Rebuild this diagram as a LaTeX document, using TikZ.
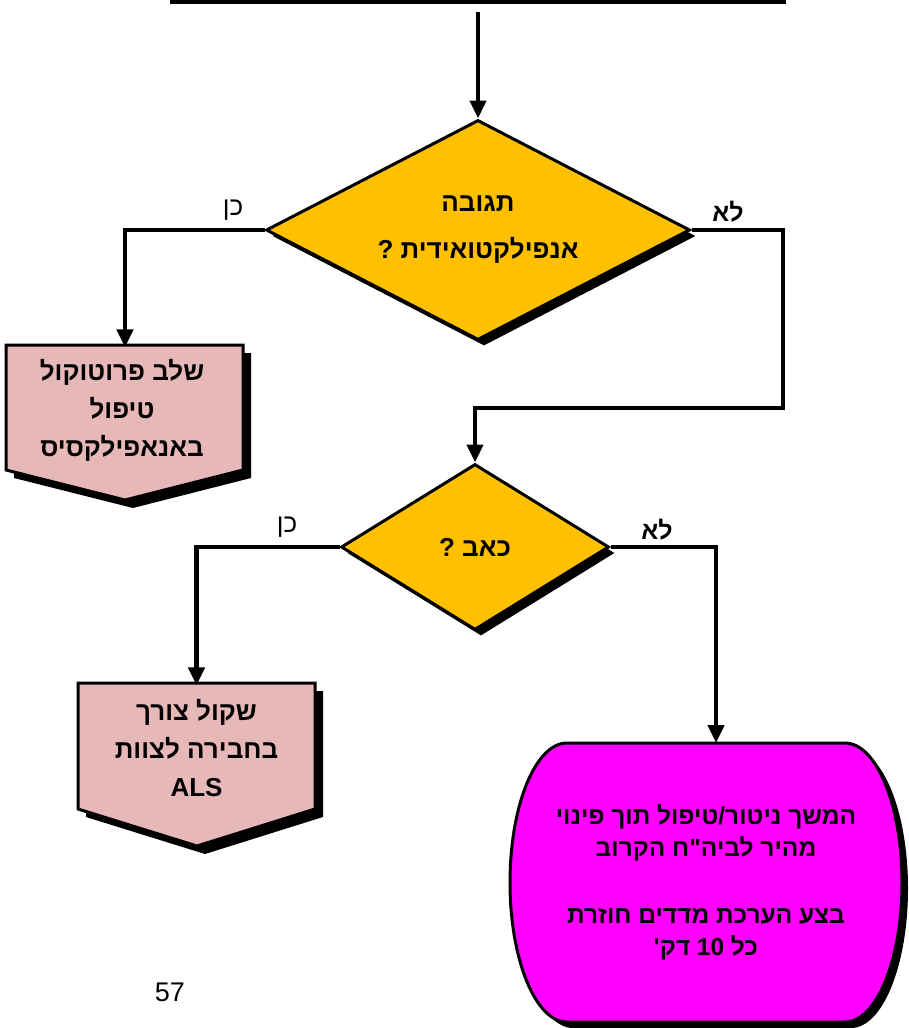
\documentclass[tikz,border=0pt]{standalone}
\usepackage{fontspec}
\setmainfont{Liberation Sans}
\newfontfamily\hebfont[Script=Hebrew]{Liberation Sans}
\TeXXeTstate=1
\newcommand{\heb}[1]{\beginR #1\endR}
\usetikzlibrary{positioning,shapes.geometric,arrows.meta,shadows}
\definecolor{decyellow}{HTML}{FFC000}
\definecolor{actpink}{HTML}{E6B9B8}
\definecolor{endmagenta}{HTML}{FF00FF}

\begin{document}
\begin{tikzpicture}[x=1pt, y=-1pt,
	flow/.style={line width=4.5pt, -{Triangle[width=16pt,length=18pt]}},
	decision/.style={diamond, draw, line width=3pt, fill=decyellow, inner sep=0pt, aspect=1.9,
		align=center, font=\hebfont\bfseries\fontsize{26}{47}\selectfont,
		drop shadow={opacity=1, fill=black, shadow xshift=6pt, shadow yshift=-6pt}},
	pent/.style={draw, line width=3pt, fill=actpink,
		drop shadow={opacity=1, fill=black, shadow xshift=8pt, shadow yshift=-8pt}},
	pentlbl/.style={minimum width=235pt, minimum height=125pt, inner sep=0pt, align=center,
		font=\hebfont\bfseries\fontsize{26}{38}\selectfont},
	termbox/.style={draw, line width=3pt, fill=endmagenta,
		drop shadow={opacity=1, fill=black, shadow xshift=6pt, shadow yshift=-6pt}},
	branch/.style={font=\hebfont\fontsize{26}{28}\selectfont}]
	\useasboundingbox (0,0) rectangle (909,1028);
	\clip (0,0) rectangle (909,1028);
	\node [draw, line width=4pt, minimum width=612pt, minimum height=60pt] (prev) at (478,-28) {};
	% first question
	\node [decision, minimum width=424pt, minimum height=220pt] (d1) at (478,230)
		{\heb{תגובה}\\ \heb{אנפילקטואידית ?}};
	\draw [pent] (6,345) -- (243,345) -- (243,470) -- (125,500) -- (6,470) -- cycle;
	\node [pentlbl] (p1) at (122,410) {\heb{שלב פרוטוקול}\\ \heb{טיפול}\\ \heb{באנאפילקסיס}};
	% second question
	\node [decision, minimum width=268pt, minimum height=166pt] (d2) at (475,547) {\heb{כאב ?}};
	\draw [pent] (78,683) -- (315,683) -- (315,809) -- (197,846) -- (78,809) -- cycle;
	\node [pentlbl] (p2) at (196.5,748) {\heb{שקול צורך}\\ \heb{בחבירה לצוות}\\ ALS};
	\draw [termbox] (567,743) -- (845,743) arc [start angle=90, end angle=-90, x radius=57pt, y radius=139.5pt]
		-- (567,1022) arc [start angle=270, end angle=90, x radius=57pt, y radius=139.5pt] -- cycle;
	\node [align=center, font=\hebfont\bfseries\fontsize{24.5}{32}\selectfont] (term) at (706,882)
		{\heb{המשך ניטור/טיפול תוך פינוי}\\ \heb{מהיר לביה"ח הקרוב}\\[35pt]
		 \heb{בצע הערכת מדדים חוזרת}\\ \heb{כל \beginL10\endL{} דק'}};
	\coordinate (bend) at (783,408);
	\coordinate (termin) at (716,743);
	\draw [flow] ([yshift=-8pt]prev.south) -- (d1.north);
	\draw [flow] (d1.west) -| (p1.north -| 125,0);
	\draw [flow] (d1.east) -| (bend) -| (d2.north);
	\draw [flow] (d2.west) -| (p2.north);
	\draw [flow] (d2.east) -| (termin);
	\node [branch] (yes1) at (233,210) {\heb{כן}};
	\node [branch, font=\hebfont\bfseries\fontsize{25}{28}\selectfont] (no1) at (728,212) {\heb{לא}};
	\node [branch] (yes2) at (287,527) {\heb{כן}};
	\node [branch, font=\hebfont\bfseries\fontsize{25}{28}\selectfont] (no2) at (657,530) {\heb{לא}};
	\node [font=\fontsize{27}{30}\selectfont] (pagenum) at (170,992) {57};
\end{tikzpicture}
\end{document}
